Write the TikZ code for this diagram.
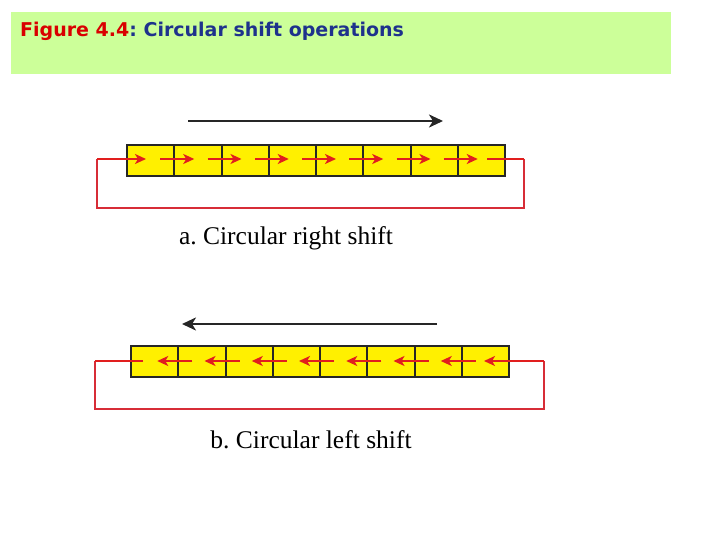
\documentclass[tikz,border=0pt]{standalone}
\usepackage{fontspec}
\setmainfont{Liberation Serif}
\newfontfamily\titlefont{DejaVu Sans}
\usetikzlibrary{arrows.meta}
\definecolor{titlegreen}{RGB}{204,255,153}
\definecolor{cellyellow}{RGB}{255,240,0}
\definecolor{arrred}{RGB}{225,30,30}
\definecolor{loopred}{RGB}{215,45,55}
\definecolor{titleblue}{RGB}{30,50,140}
\tikzset{
  cellbox/.style={draw=black!85,line width=2pt,fill=cellyellow,minimum width=47.25pt,minimum height=31pt,inner sep=0pt,anchor=north west},
  redarr/.style={arrred,line width=2.6pt,-{Stealth[length=11pt,width=10pt,inset=3pt]}},
  redline/.style={arrred,line width=2.6pt},
  looppath/.style={loopred,line width=2pt},
  blackarr/.style={black!85,line width=2.8pt,-{Stealth[length=14pt,width=13pt,inset=4pt]}},
  caption/.style={font=\fontsize{25.5}{28}\selectfont,inner sep=0pt}
}
\frenchspacing
\begin{document}
\begin{tikzpicture}[x=1pt,y=-1pt]
\useasboundingbox (0,0) rectangle (720,540);
\fill[titlegreen] (11,12) rectangle (671,74);
\node[anchor=base west,inner sep=0pt,font=\titlefont\bfseries\fontsize{19}{22}\selectfont] (title) at (20,37) {\textcolor{red!85!black}{Figure 4.4}\textcolor{titleblue}{: Circular shift operations}};
% top row
\foreach \i in {0,...,7} \node[cellbox] (a\i) at (126+47.25*\i,144) {};
\coordinate (aL) at (97,159);
\coordinate (aR) at (524,159);
\draw[looppath] (aR) -- (524,208) -- (97,208) -- (aL);
\draw[redarr] (aL) -- (146,159);
\foreach \i in {1,...,7} \draw[redarr] (126+47.25*\i-13,159) -- (126+47.25*\i+21,159);
\draw[redline] (487,159) -- (aR);
\coordinate (b1) at (188,121); \coordinate (b2) at (443,121);
\draw[blackarr] (b1) -- (b2);
\node[caption] (capa) at (286,238) {a. Circular right shift};
% bottom row
\foreach \i in {0,...,7} \node[cellbox] (c\i) at (130+47.25*\i,345) {};
\coordinate (cL) at (95,361);
\coordinate (cR) at (544,361);
\draw[looppath] (cR) -- (544,409) -- (95,409) -- (cL);
\draw[redarr] (cR) -- (484,361);
\foreach \i in {1,...,7} \draw[redarr] (130+47.25*\i+15,361) -- (130+47.25*\i-20,361);
\draw[redline] (143,361) -- (cL);
\coordinate (d1) at (437,324); \coordinate (d2) at (182,324);
\draw[blackarr] (d1) -- (d2);
\node[caption] (capb) at (311,440) {b. Circular left shift};
\end{tikzpicture}
\end{document}
